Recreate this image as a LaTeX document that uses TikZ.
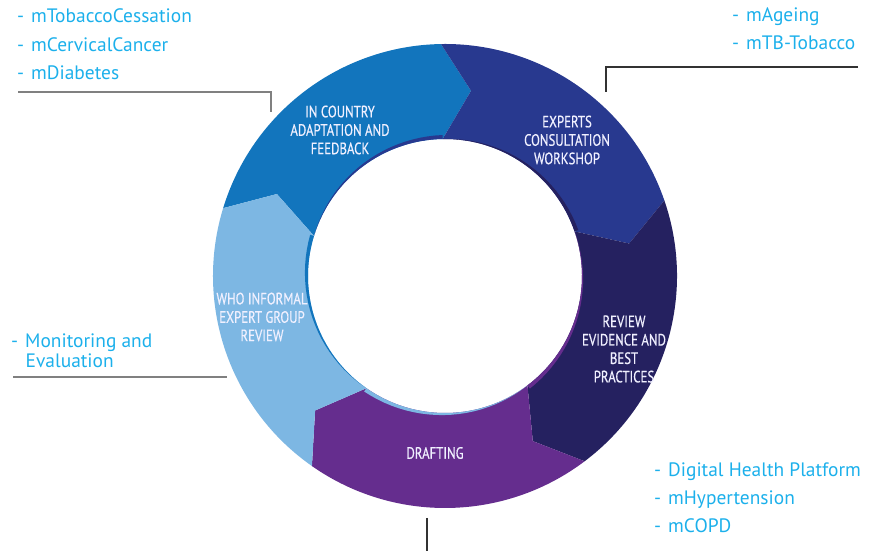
\documentclass[tikz,border=0pt]{standalone}
\usepackage{fontspec}
\setmainfont{PT Sans}
\newfontfamily\ringfont[FakeStretch=0.78,FakeBold=0.5]{PT Sans}
\usepackage{tikz}

\definecolor{landblau}{RGB}{18,117,189}
\definecolor{expertblau}{RGB}{40,57,143}
\definecolor{reviewblau}{RGB}{37,33,96}
\definecolor{entwurf}{RGB}{101,45,142}
\definecolor{hellblau}{RGB}{125,183,227}
\definecolor{listcyan}{RGB}{28,176,235}
\definecolor{grauLinie}{RGB}{128,128,128}
\definecolor{dunkelLinie}{RGB}{50,50,50}

\tikzset{
  ringlabel/.style={text=white!94!blue, font=\ringfont\fontsize{16.5}{18.5}\selectfont, align=center, inner sep=0pt},
  listtext/.style={text=listcyan, font=\fontsize{19.5}{28}\selectfont, anchor=base west, inner sep=0pt},
}

\begin{document}
\begin{tikzpicture}[x=1bp,y=1bp]
\useasboundingbox (0,0) rectangle (871,551);

% Ring aus fuenf Pfeil-Segmenten
\begin{scope}[shift={(445,275)}]
\foreach \s/\farbe/\naechste in {163/landblau/expertblau, 91/expertblau/reviewblau, 19/reviewblau/entwurf, -53/entwurf/hellblau, -125/hellblau/landblau}{
  \pgfmathsetmacro{\e}{\s-72}
  \fill[\farbe] (\s:232) arc[start angle=\s, end angle=\e, radius=232]
    -- ({\e-9}:187) -- (\e:137) arc[start angle=\e, end angle=\s, radius=137]
    -- ({\s-9}:187) -- cycle;
  % innerer Schatten
  \fill[\naechste] (\s:137) arc[start angle=\s, end angle=\e, radius=137]
    -- plot[domain=\e:\s, samples=24] (\x:{137+4*(\s-\x)/72}) -- cycle;
}
\end{scope}

% Beschriftung der Segmente
\node[ringlabel] (adapt) at (340,421) {IN COUNTRY\\ADAPTATION AND\\FEEDBACK};
\node[ringlabel] (experts) at (567,411) {EXPERTS\\CONSULTATION\\WORKSHOP};
\node[ringlabel] (review) at (624,202) {REVIEW\\EVIDENCE AND\\BEST\\PRACTICES};
\node[ringlabel] (drafting) at (435,98) {DRAFTING};
\node[ringlabel] (whoreview) at (262,234) {WHO INFORMAL\\EXPERT GROUP\\REVIEW};

% Listen oben links
\node[listtext] (tobacco) at (17,528) {-\hspace{7pt}mTobaccoCessation};
\node[listtext] (cervical) at (17,499.5) {-\hspace{7pt}mCervicalCancer};
\node[listtext] (diabetes) at (17,471) {-\hspace{7pt}mDiabetes};
\coordinate (tlA) at (18,459);
\coordinate (tlB) at (271,439);
\draw[grauLinie, line width=1.2] (tlA) -| (tlB);

% Liste oben rechts
\node[listtext] (ageing) at (732,529.5) {-\hspace{7pt}mAgeing};
\node[listtext] (tbtobacco) at (732,501) {-\hspace{7pt}mTB-Tobacco};
\coordinate (trA) at (858,484);
\coordinate (trB) at (606,459);
\draw[dunkelLinie, line width=1.2] (trA) -| (trB);

% Liste links
\node[listtext, font=\fontsize{19.5}{20}\selectfont] (monitoring) at (11,203.7) {-\hspace{7pt}Monitoring and};
\node[listtext, font=\fontsize{19.5}{20}\selectfont] (evaluation) at (25.5,183.7) {Evaluation};
\coordinate (lA) at (13,174);
\coordinate (lB) at (227,174);
\draw[grauLinie, line width=1.8] (lA) -- (lB);

% Liste unten rechts
\node[listtext] (digital) at (654,74.3) {-\hspace{7pt}Digital Health Platform};
\node[listtext] (hypertension) at (654,46.5) {-\hspace{7pt}mHypertension};
\node[listtext] (copd) at (654,18.7) {-\hspace{7pt}mCOPD};
\coordinate (bA) at (427,33);
\coordinate (bB) at (427,0);
\draw[dunkelLinie, line width=1.2] (bA) -- (bB);

\end{tikzpicture}
\end{document}
